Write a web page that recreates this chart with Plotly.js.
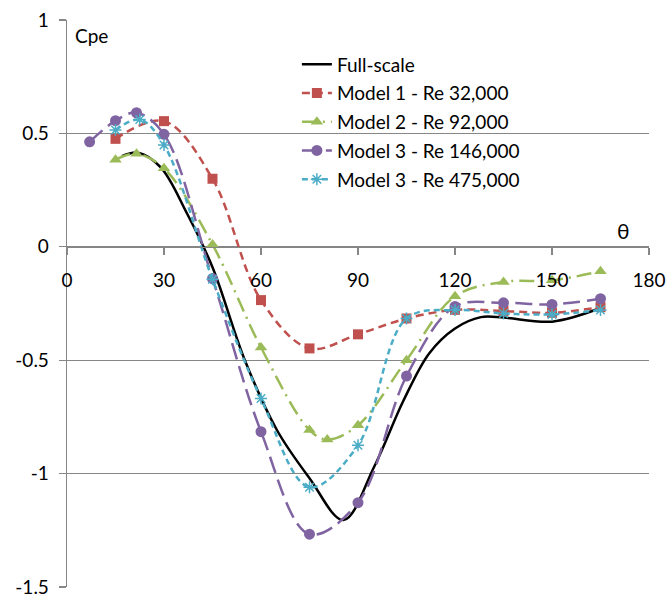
<!DOCTYPE html>
<html>
<head>
<meta charset="utf-8">
<script src="https://cdn.plot.ly/plotly-3.0.1.min.js"></script>
<style>
  html, body { margin: 0; padding: 0; background: #fff; }
  #chart { width: 669px; height: 598px; }
</style>
</head>
<body>
<div id="chart"></div>
<script>
// External pressure coefficient Cpe against wind angle θ (degrees)
const fullTheta = [17, 22, 29, 37, 45, 55, 65, 75, 85.5, 95, 104, 112, 120, 128, 135, 150, 165];
const fullCpe   = [0.40, 0.415, 0.35, 0.15, -0.09, -0.5, -0.81, -1.02, -1.205, -0.97, -0.68, -0.47, -0.36, -0.31, -0.312, -0.33, -0.27];

const m1Theta = [15, 30, 45, 60, 75, 90, 105, 120, 135, 150, 165];
const m1Cpe   = [0.476, 0.554, 0.30, -0.235, -0.448, -0.386, -0.316, -0.278, -0.283, -0.291, -0.266];

const m2Theta = [15, 21.5, 30, 45, 60, 75, 80.5, 90, 105, 120, 135, 150, 165];
const m2Cpe   = [0.384, 0.41, 0.346, 0.01, -0.444, -0.808, -0.85, -0.787, -0.50, -0.218, -0.155, -0.148, -0.108];

const m3aTheta = [7, 15, 21.5, 30, 45, 60, 75, 90, 105, 120, 135, 150, 165];
const m3aCpe   = [0.463, 0.556, 0.591, 0.496, -0.14, -0.815, -1.267, -1.128, -0.57, -0.263, -0.247, -0.254, -0.229];

const m3bTheta = [15, 22.5, 30, 45, 60, 75, 90, 105, 120, 135, 150, 165];
const m3bCpe   = [0.515, 0.561, 0.449, -0.143, -0.669, -1.06, -0.875, -0.316, -0.279, -0.294, -0.298, -0.279];

const seriesNames = ['Full-scale', 'Model 1 - Re 32,000', 'Model 2 - Re 92,000',
                     'Model 3 - Re 146,000', 'Model 3 - Re 475,000'];

const xTicks = [0, 30, 60, 90, 120, 150, 180];
const yTicks = [-1.5, -1, -0.5, 0, 0.5, 1];
const yTickText = ['-1.5', '-1', '-0.5', '0', '0.5', '1'];

const FONT = 'Lato, "Open Sans", sans-serif';

function series(x, y, name, color, dash, symbol, size, group) {
  const t = {
    x: x, y: y, name: name, type: 'scatter',
    mode: symbol ? 'lines+markers' : 'lines',
    line: { color: color, width: 2.5, dash: dash, shape: 'spline', smoothing: 1 },
    legendgroup: group,
    hoverinfo: 'skip'
  };
  if (symbol) {
    t.marker = { symbol: symbol, size: size, color: color,
                 line: { color: color, width: symbol === 'asterisk-open' ? 1.5 : 0 } };
  }
  return t;
}

const data = [
  series(fullTheta, fullCpe, seriesNames[0], '#000000', 'solid', null, 0, 'g0'),
  series(m1Theta, m1Cpe, seriesNames[1], '#C0504D', '8px,5px', 'square', 10, 'g1'),
  series(m2Theta, m2Cpe, seriesNames[2], '#9BBB59', '15px,6px,2px,6px', 'triangle-up', 11, 'g2'),
  series(m3aTheta, m3aCpe, seriesNames[3], '#8064A2', '17px,7px', 'circle', 11, 'g3'),
  series(m3bTheta, m3bCpe, seriesNames[4], '#4BACC6', '6px,4px', 'asterisk-open', 10, 'g4')
];

const layout = {
  width: 669, height: 598,
  margin: { l: 67, r: 20, t: 20, b: 11 },
  paper_bgcolor: '#fff', plot_bgcolor: '#fff',
  font: { family: FONT, size: 19, color: '#000' },
  showlegend: true,
  legend: {
    x: 0.395, y: 0.955, xanchor: 'left', yanchor: 'top',
    bgcolor: 'rgba(255,255,255,0)',
    font: { family: FONT, size: 19, color: '#000' },
    traceorder: 'grouped', tracegroupgap: 1
  },
  xaxis: {
    range: [0, 180], tickvals: xTicks, ticktext: xTicks.map(String),
    showgrid: false, zeroline: false,
    showline: true, linecolor: '#868686', linewidth: 1.3,
    ticks: 'outside', ticklen: 7, tickcolor: '#868686', tickwidth: 1.3,
    ticklabelstandoff: 9,
    anchor: 'free', position: 0.6,
    tickfont: { family: FONT, size: 19, color: '#000' },
    fixedrange: true
  },
  yaxis: {
    range: [-1.5, 1], tickvals: yTicks, ticktext: yTickText,
    showgrid: true, gridcolor: '#868686', gridwidth: 1.3,
    zeroline: false,
    showline: true, linecolor: '#868686', linewidth: 1.3,
    ticks: 'outside', ticklen: 7, tickcolor: '#868686', tickwidth: 1.3,
    ticklabelstandoff: 6,
    tickfont: { family: FONT, size: 19, color: '#000' },
    fixedrange: true
  },
  annotations: [
    { text: 'Cpe', xref: 'x', yref: 'y', x: 2, y: 0.99, xanchor: 'left', yanchor: 'top',
      showarrow: false, font: { family: FONT, size: 19, color: '#000' } },
    { text: 'θ', xref: 'x', yref: 'y', x: 172, y: 0.01, xanchor: 'center', yanchor: 'bottom',
      showarrow: false, font: { family: FONT, size: 21, color: '#000' } }
  ]
};

Plotly.newPlot('chart', data, layout, { displayModeBar: false, staticPlot: true });
</script>
</body>
</html>
